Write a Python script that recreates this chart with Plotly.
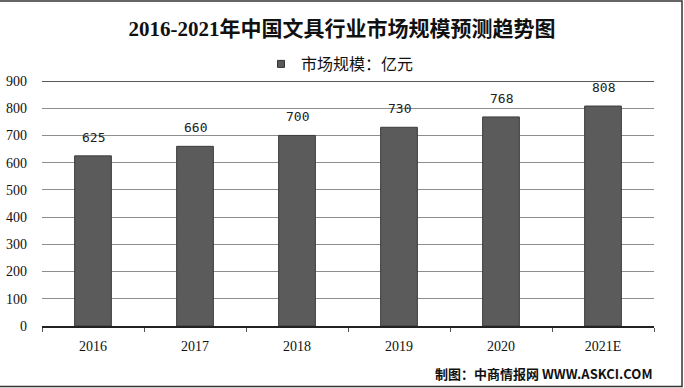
import plotly.graph_objects as go

years = ["2016", "2017", "2018", "2019", "2020", "2021E"]
values = [625, 660, 700, 730, 768, 808]
value_labels = ["625", "660", "700", "730", "768", "808"]
y_ticks = [0, 100, 200, 300, 400, 500, 600, 700, 800, 900]

title_text = "2016-2021年中国文具行业市场规模预测趋势图"
series_name = "市场规模：亿元"
source_text = "制图：中商情报网 WWW.ASKCI.COM"

W, H = 684, 388
L, R, T, B = 42, 30, 81, 62
PW, PH = W - L - R, H - T - B

fig = go.Figure()
fig.add_trace(go.Bar(
    x=years, y=values, name=series_name,
    marker=dict(color="#5b5b5b", line=dict(color="#3c3c3c", width=1)),
    showlegend=False,
))
# legend entry (small square marker as in the reference)
fig.add_trace(go.Scatter(
    x=[None], y=[None], mode="markers", name=series_name,
    marker=dict(symbol="square", size=7, color="#5b5b5b", line=dict(color="#333", width=1)),
    showlegend=True,
))

for i, (v, t) in enumerate(zip(values, value_labels)):
    fig.add_annotation(x=i, y=v, text=t, showarrow=False, yanchor="bottom",
                       yshift=9, font=dict(family="DejaVu Sans Mono, monospace", size=13, color="#222"))

fig.add_annotation(xref="paper", yref="paper", x=1.0, y=-47 / PH, xanchor="right", yanchor="middle",
                   text="<b>" + source_text + "</b>", showarrow=False,
                   font=dict(family="Noto Sans CJK SC", size=13, color="#111"))

fig.update_layout(
    width=W, height=H,
    margin=dict(l=L, r=R, t=T, b=B),
    paper_bgcolor="white", plot_bgcolor="white",
    title=dict(text="<b>" + title_text + "</b>", x=0.5, xanchor="center",
               y=1 - 29 / H, yanchor="middle",
               font=dict(family="Liberation Serif, Noto Sans CJK SC", size=21, color="#111")),
    legend=dict(orientation="h", x=0.5 - 8 / PW, xanchor="center", yref="container", y=1 - 64 / H,
                yanchor="middle",
                font=dict(family="Noto Sans CJK SC", size=16, color="#111"),
                bgcolor="rgba(0,0,0,0)", itemwidth=30),
    bargap=0.64,
    font=dict(family="DejaVu Serif, serif", color="#111"),
)

fig.update_yaxes(range=[0, 900], tickvals=y_ticks, showgrid=True, gridcolor="#8e8e8e", gridwidth=1,
                 zeroline=False, showline=False, ticks="", automargin=False,
                 tickfont=dict(size=14, family="Liberation Serif, serif"),
                 ticklabelstandoff=14, fixedrange=True)
fig.update_xaxes(type="category", categoryorder="array", categoryarray=years,
                 range=[-0.5, len(years) - 0.5], automargin=False,
                 showline=True, linecolor="#222", linewidth=1.5, ticks="outside",
                 tickson="boundaries", ticklen=4, tickcolor="#555",
                 tickfont=dict(size=14, family="Liberation Serif, serif"), ticklabelstandoff=6,
                 tickangle=0, fixedrange=True)

# top dark gridline
fig.add_shape(type="line", xref="paper", yref="y", x0=0, x1=1, y0=900, y1=900,
              line=dict(color="#222", width=1.5))
# outer frame
fig.add_shape(type="rect", xref="paper", yref="paper", x0=-(L + 2) / PW, x1=(682 - L) / PW,
              y0=-(B - 1.5) / PH, y1=1 + (T - 1) / PH, line=dict(color="#333", width=1.5), layer="below")

fig.write_html("out.html", config={"displayModeBar": False},
               post_script="document.body.style.margin='0';document.body.style.padding='0';"
                           "document.body.style.overflow='hidden';")
